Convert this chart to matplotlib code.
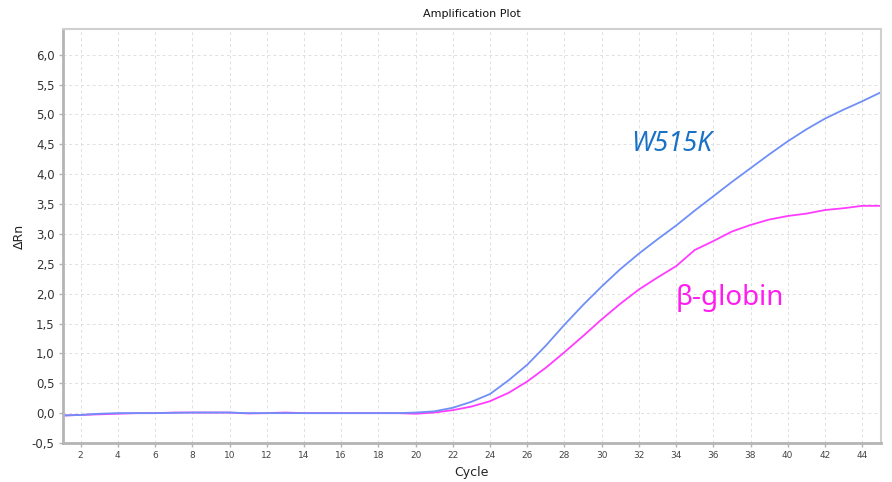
import matplotlib
matplotlib.use('Agg')
import matplotlib.pyplot as plt
from matplotlib.ticker import MultipleLocator, FuncFormatter

cycles = list(range(1, 46))

# W515K (blue) delta Rn per cycle
w515k = [-0.04, -0.03, -0.01, 0.00, 0.00, 0.00, 0.005, 0.01, 0.01, 0.01,
         0.00, 0.00, 0.00, 0.00, 0.00, 0.00, 0.00, 0.00, 0.00, 0.01,
         0.03, 0.09, 0.19, 0.32, 0.55, 0.81, 1.13, 1.48, 1.81, 2.12,
         2.41, 2.67, 2.91, 3.14, 3.39, 3.63, 3.87, 4.10, 4.33, 4.55,
         4.75, 4.93, 5.08, 5.22, 5.37]

# beta-globin (magenta) delta Rn per cycle
bglobin = [-0.04, -0.03, -0.02, -0.01, 0.00, 0.00, 0.01, 0.01, 0.01, 0.01,
           -0.005, 0.00, 0.01, 0.00, 0.00, 0.00, 0.00, 0.00, 0.00, -0.01,
           0.01, 0.05, 0.11, 0.20, 0.34, 0.53, 0.76, 1.02, 1.29, 1.57,
           1.83, 2.07, 2.27, 2.46, 2.73, 2.88, 3.04, 3.15, 3.24, 3.30,
           3.34, 3.40, 3.43, 3.47, 3.47]

BLUE = '#6f8ff7'
MAGENTA = '#ff3cff'
SPINE = '#b4b4b4'
TICK_TXT = '#333333'

fig = plt.figure(figsize=(8.92, 4.82), dpi=100)
ax = fig.add_axes([0.0706, 0.0809, 0.9168, 0.8589])

ax.plot(cycles, bglobin, color=MAGENTA, linewidth=1.3)
ax.plot(cycles, w515k, color=BLUE, linewidth=1.3)

ax.set_xlim(1.05, 45)
ax.set_ylim(-0.5, 6.43)
ax.xaxis.set_major_locator(MultipleLocator(2))
ax.yaxis.set_major_locator(MultipleLocator(0.5))
ax.yaxis.set_major_formatter(FuncFormatter(lambda v, p: f'{v:.1f}'.replace('.', ',')))

ax.grid(True, color='#e0e0e0', linestyle=(0, (3, 3)), linewidth=0.7)
ax.set_axisbelow(True)

for side in ['left', 'bottom']:
    ax.spines[side].set_color(SPINE)
    ax.spines[side].set_linewidth(2)
for side in ['top', 'right']:
    ax.spines[side].set_color('#d0d0d0')
    ax.spines[side].set_linewidth(1.5)

ax.tick_params(axis='y', labelsize=8.5, colors=SPINE, labelcolor=TICK_TXT,
               length=3, width=1, pad=3)
ax.tick_params(axis='x', labelsize=6.5, colors=SPINE, labelcolor='#444444',
               length=3, width=1, pad=3)

ax.set_xlabel('Cycle', fontsize=9, color='#222222', labelpad=4)
ax.set_ylabel('\u0394Rn', fontsize=9, color='#222222', labelpad=4)
ax.set_title('Amplification Plot', fontsize=8, color='#111111', pad=9)

ax.text(31.6, 4.5, 'W515K', fontsize=19, style='italic', color='#1a72c6',
        family='Noto Sans', va='center', ha='left')
ax.text(34.0, 1.93, '\u03b2-globin', fontsize=20, color='#ff1cf0',
        family='Noto Sans', va='center', ha='left')

fig.savefig('out.png', dpi=100, facecolor='white')
